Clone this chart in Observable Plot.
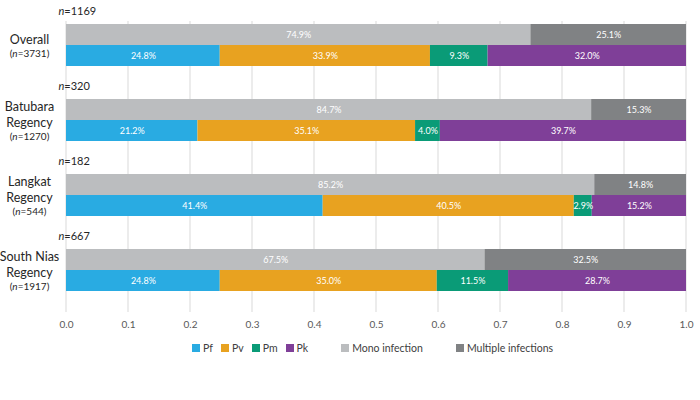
<!DOCTYPE html>
<html><head><meta charset="utf-8">
<script src="https://cdn.jsdelivr.net/npm/d3@7"></script>
<script src="https://cdn.jsdelivr.net/npm/@observablehq/plot@0.6"></script>
<style>
body{margin:0;background:#fff;font-family:Lato,"Open Sans",sans-serif}
#legend{display:flex;align-items:center;height:16px;padding-left:192px;font-size:10.5px;color:#404040;font-family:Lato,sans-serif}
.item{display:flex;align-items:center;margin-right:8px}
.item.wide{margin-left:25px}
.sw{width:8px;height:8px;margin-right:3px}
</style></head>
<body><div id="chart"></div><div id="legend"></div>
<script>
const groups = ["Overall", "Batubara Regency", "Langkat Regency", "South Nias Regency"];
const groupLabels = ["Overall", "Batubara\nRegency", "Langkat\nRegency", "South Nias\nRegency"];
const totalN = [3731, 1270, 544, 1917];
const multiN = [1169, 320, 182, 667];
const speciesKeys = ["Pf", "Pv", "Pm", "Pk"];
const pfPct = [24.8, 21.2, 41.4, 24.8];
const pvPct = [33.9, 35.1, 40.5, 35.0];
const pmPct = [9.3, 4.0, 2.9, 11.5];
const pkPct = [32.0, 39.7, 15.2, 28.7];
const infectionKeys = ["Mono infection", "Multiple infections"];
const monoPct = [74.9, 84.7, 85.2, 67.5];
const multiPct = [25.1, 15.3, 14.8, 32.5];
const xTicks = [0, 0.1, 0.2, 0.3, 0.4, 0.5, 0.6, 0.7, 0.8, 0.9, 1.0];
const keys = [...speciesKeys, ...infectionKeys];
const colors = ["#29abe2", "#e8a220", "#0a9b77", "#7f3f98", "#bbbdbf", "#808284"];

const speciesSeries = [pfPct, pvPct, pmPct, pkPct];
const infSeries = [monoPct, multiPct];
const rows = [];
groups.forEach((g, i) => {
  infectionKeys.forEach((k, j) => rows.push({group: g, row: "infection", key: k, pct: infSeries[j][i], value: infSeries[j][i] / 100}));
  speciesKeys.forEach((k, j) => rows.push({group: g, row: "species", key: k, pct: speciesSeries[j][i], value: speciesSeries[j][i] / 100}));
});
const idx = groups.map((g, i) => i);
const nLines = i => groupLabels[i].split("\n").length;

const W = 700, H = 340, MT = 21, MB = 48;
const chart = Plot.plot({
  width: W, height: H, marginLeft: 66, marginRight: 14, marginTop: MT, marginBottom: MB,
  style: {fontFamily: "Lato, sans-serif", fontSize: "10px", color: "#595959", background: "#fff"},
  x: {domain: [0, 1], ticks: xTicks, tickFormat: d3.format(".1f"), tickSize: 0, tickPadding: 29, label: null},
  y: {domain: ["infection", "species"], padding: 0, axis: null},
  fy: {domain: groups, paddingInner: 0.43, paddingOuter: 0, axis: null, label: null},
  color: {domain: keys, range: colors},
  marks: [
    Plot.barX(rows, Plot.stackX({x: "value", y: "row", fy: "group", fill: "key"})),
    Plot.text(rows, Plot.stackX({x: "value", y: "row", fy: "group", text: d => d.pct.toFixed(1) + "%", fill: "white", fontSize: 9})),
    Plot.text(idx, {fy: i => groups[i], frameAnchor: "top-left", text: i => `n=${multiN[i]}`, dx: -8, dy: -12, textAnchor: "start", lineAnchor: "middle", fontSize: 11, fill: "#262626"}),
    Plot.text(idx, {fy: i => groups[i], frameAnchor: "left", text: i => groupLabels[i], dx: -37, dy: -6, textAnchor: "middle", lineAnchor: "middle", lineHeight: 1.25, fontSize: 12.5, fill: "#262626"}),
    ...[1, 2].map(L => Plot.text(idx.filter(i => nLines(i) === L), {fy: i => groups[i], frameAnchor: "left", text: i => `(n=${totalN[i]})`, dx: -37, dy: 8 * L + 0.5, textAnchor: "middle", lineAnchor: "middle", fontSize: 10, fill: "#262626"}))
  ]
});
document.getElementById("chart").appendChild(chart);

// vertical grid lines (thin filled rects) through all facets and gaps, x from Plot's own x scale
const xs = chart.scale("x");
const gTop = MT, gBottom = H - MB + 20;
const ns = "http://www.w3.org/2000/svg";
const gridG = document.createElementNS(ns, "g");
xTicks.forEach(t => {
  const x = Math.round(xs.apply(t));
  const r = document.createElementNS(ns, "rect");
  r.setAttribute("x", x - 0.5); r.setAttribute("width", 1);
  r.setAttribute("y", gTop); r.setAttribute("height", gBottom - gTop);
  r.setAttribute("fill", "#d9d9d9");
  gridG.appendChild(r);
});
let firstG = null;
for (const c of chart.children) { if (c.tagName.toLowerCase() === "g") { firstG = c; break; } }
chart.insertBefore(gridG, firstG);

// italic "n" in sample-size labels
d3.select(chart).selectAll("text").each(function () {
  if (this.querySelector("tspan")) return;
  const t = this.textContent;
  const m = t.match(/^(\(?)n=(.*)$/);
  if (!m) return;
  this.textContent = "";
  const s = d3.select(this);
  if (m[1]) s.append("tspan").text(m[1]);
  s.append("tspan").attr("font-style", "italic").text("n");
  s.append("tspan").text("=" + m[2]);
});

const legend = d3.select("#legend");
keys.forEach((k, i) => {
  const it = legend.append("div").attr("class", "item" + (i >= 4 ? " wide" : ""));
  it.append("div").attr("class", "sw").style("background", colors[i]);
  it.append("span").text(k);
});
</script>
</body></html>
